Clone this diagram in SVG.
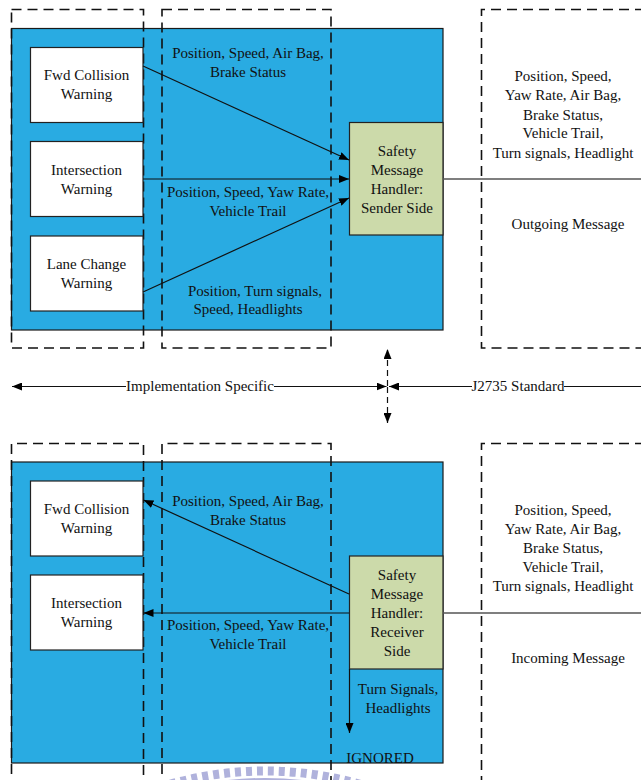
<svg xmlns="http://www.w3.org/2000/svg" width="641" height="780" viewBox="0 0 641 780" font-family="'Liberation Serif', 'Times New Roman', serif">
<style>
.bg{fill:#29ABE2;stroke:#1a1a1a;stroke-width:1.2}
.box{fill:#ffffff;stroke:#222;stroke-width:1.2}
.smh{fill:#CCDAAA;stroke:#222;stroke-width:1.2}
.dash{fill:none;stroke:#111;stroke-width:1.6;stroke-dasharray:10 6}
.ln{fill:none;stroke:#111;stroke-width:1.2}
.gl{fill:none;stroke:#555;stroke-width:1.4}
text{font-family:'Liberation Serif','Times New Roman',serif;font-size:15px;fill:#111;text-anchor:middle}
.wm{fill:none;stroke:#B0B2DC}
</style>
<defs>
<marker id="ah" viewBox="0 0 10 8" refX="10" refY="4" markerWidth="10" markerHeight="8" markerUnits="userSpaceOnUse" orient="auto">
<path d="M0,0 L10,4 L0,8 Z" fill="#000"/>
</marker>
<clipPath id="wmclip"><rect x="165" y="763" width="200" height="17"/></clipPath>
</defs>

<!-- watermark -->
<g id="watermark" clip-path="url(#wmclip)">
<circle class="wm" cx="265" cy="1116" r="345" stroke-width="9" stroke-dasharray="6 5"/>
<circle class="wm" cx="265" cy="1116" r="336" stroke-width="4"/>
</g>

<!-- top section -->
<g id="top-bg"><rect class="bg" x="11.5" y="28.5" width="431.5" height="301.5"/></g>
<g id="top-dash-1"><rect class="dash" x="11.5" y="9.5" width="132" height="338.5"/></g>
<g id="top-dash-2"><rect class="dash" x="162" y="9.5" width="169" height="338.5"/></g>
<g id="top-dash-3"><path class="dash" d="M645,9.5 H481.5 V348 H645"/></g>

<g id="fwd-top"><rect class="box" x="30.5" y="47.5" width="112.5" height="75"/>
<text x="86.5" y="80">Fwd Collision</text><text x="86.5" y="99">Warning</text></g>
<g id="int-top"><rect class="box" x="30.5" y="141.5" width="112.5" height="75"/>
<text x="86.5" y="175">Intersection</text><text x="86.5" y="194">Warning</text></g>
<g id="lane-top"><rect class="box" x="30.5" y="236" width="112.5" height="75"/>
<text x="86.5" y="269">Lane Change</text><text x="86.5" y="288">Warning</text></g>
<g id="smh-sender"><rect class="smh" x="349.5" y="122.5" width="93.5" height="112.5"/>
<text x="397" y="156">Safety</text><text x="397" y="175">Message</text><text x="397" y="194">Handler:</text><text x="397" y="213">Sender Side</text></g>

<g id="top-labels">
<text x="248" y="58">Position, Speed, Air Bag,</text><text x="248" y="77">Brake Status</text>
<text x="248" y="197">Position, Speed, Yaw Rate,</text><text x="248" y="216">Vehicle Trail</text>
<text x="255" y="296">Position, Turn signals,</text><text x="248" y="314">Speed, Headlights</text>
<text x="563" y="81">Position, Speed,</text><text x="563" y="100">Yaw Rate, Air Bag,</text><text x="563" y="120">Brake Status,</text><text x="563" y="138">Vehicle Trail,</text><text x="563" y="158">Turn signals, Headlight</text>
<text x="568" y="229">Outgoing Message</text>
</g>

<!-- middle -->
<g id="middle">
<text x="200" y="391">Implementation Specific</text>
<text x="518" y="391">J2735 Standard</text>
</g>

<!-- bottom section -->
<g id="bot-bg"><rect class="bg" x="11.5" y="462" width="431.5" height="301"/></g>
<g id="bot-dash-1"><path class="dash" d="M11.5,790 V443.5 H143.5 V790"/></g>
<g id="bot-dash-2"><path class="dash" d="M162,790 V443.5 H331 V790"/></g>
<g id="bot-dash-3"><path class="dash" d="M645,443.5 H481.5 V790"/></g>

<g id="fwd-bot"><rect class="box" x="30.5" y="481" width="112.5" height="75"/>
<text x="86.5" y="514">Fwd Collision</text><text x="86.5" y="533">Warning</text></g>
<g id="int-bot"><rect class="box" x="30.5" y="575" width="112.5" height="75"/>
<text x="86.5" y="608">Intersection</text><text x="86.5" y="627">Warning</text></g>
<g id="smh-receiver"><rect class="smh" x="349.5" y="556" width="93.5" height="113"/>
<text x="397" y="580">Safety</text><text x="397" y="599">Message</text><text x="397" y="618">Handler:</text><text x="397" y="637">Receiver</text><text x="397" y="656">Side</text></g>

<g id="bot-labels">
<text x="248" y="506">Position, Speed, Air Bag,</text><text x="248" y="525">Brake Status</text>
<text x="248" y="630">Position, Speed, Yaw Rate,</text><text x="248" y="649">Vehicle Trail</text>
<text x="398" y="694">Turn Signals,</text><text x="398" y="713">Headlights</text>
<text x="380" y="763">IGNORED</text>
<text x="563" y="515">Position, Speed,</text><text x="563" y="534">Yaw Rate, Air Bag,</text><text x="563" y="553">Brake Status,</text><text x="563" y="572">Vehicle Trail,</text><text x="563" y="591">Turn signals, Headlight</text>
<text x="568" y="663">Incoming Message</text>
</g>

<!-- connectors -->
<g id="connectors">
<line class="ln" x1="143" y1="66" x2="349" y2="160" marker-end="url(#ah)"/>
<line class="ln" x1="143" y1="179" x2="349" y2="179" marker-end="url(#ah)"/>
<line class="ln" x1="143" y1="292" x2="349" y2="198" marker-end="url(#ah)"/>
<line class="gl" x1="443" y1="179" x2="641" y2="179"/>

<line class="ln" x1="274" y1="386.5" x2="386.5" y2="386.5" marker-end="url(#ah)"/>
<line class="ln" x1="126" y1="386.5" x2="12" y2="386.5" marker-end="url(#ah)"/>
<line class="ln" x1="472" y1="386.5" x2="389" y2="386.5" marker-end="url(#ah)"/>
<line class="ln" x1="564" y1="386.5" x2="641" y2="386.5"/>
<line class="ln" x1="387.5" y1="386" x2="387.5" y2="349" stroke-dasharray="6 4" marker-end="url(#ah)"/>
<line class="ln" x1="387.5" y1="387" x2="387.5" y2="423" stroke-dasharray="6 4" marker-end="url(#ah)"/>

<line class="ln" x1="349" y1="594" x2="143.5" y2="500" marker-end="url(#ah)"/>
<line class="ln" x1="349" y1="613" x2="143.5" y2="613" marker-end="url(#ah)"/>
<line class="gl" x1="443" y1="613" x2="641" y2="613"/>
<line class="ln" x1="349.5" y1="669" x2="349.5" y2="733" marker-end="url(#ah)"/>
</g>
</svg>
